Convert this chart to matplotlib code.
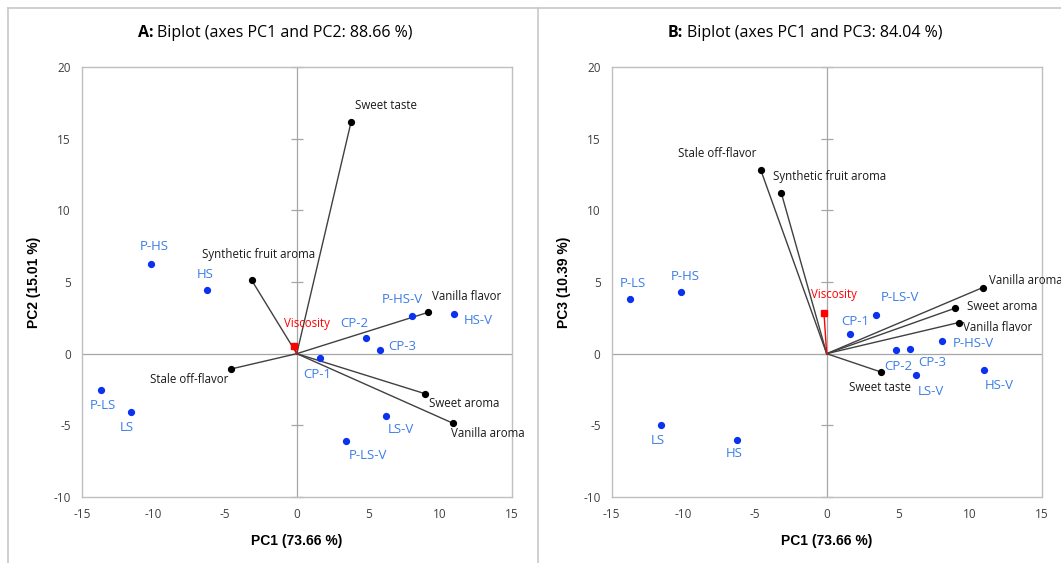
import numpy as np
import matplotlib
matplotlib.use("Agg")
import matplotlib.pyplot as plt
from matplotlib.lines import Line2D

plt.rcParams["axes.unicode_minus"] = False

# sample scores
samples = ["P-HS", "HS", "P-LS", "LS", "CP-1", "CP-2", "CP-3",
           "P-HS-V", "HS-V", "LS-V", "P-LS-V"]
samp_pc1 = [-10.15, -6.26, -13.69, -11.59, 1.65, 4.87, 5.84, 8.08, 10.96, 6.22, 3.45]
samp_pc2 = [6.26, 4.44, -2.53, -4.09, -0.33, 1.12, 0.26, 2.61, 2.77, -4.33, -6.12]
samp_pc3 = [4.28, -6.00, 3.80, -4.95, 1.37, 0.23, 0.30, 0.91, -1.12, -1.49, 2.72]

# sensory attribute loadings
attributes = ["Sweet taste", "Synthetic fruit aroma", "Stale off-flavor",
              "Vanilla flavor", "Sweet aroma", "Vanilla aroma"]
attr_pc1 = [3.79, -3.16, -4.60, 9.20, 8.95, 10.88]
attr_pc2 = [16.15, 5.14, -1.07, 2.89, -2.79, -4.84]
attr_pc3 = [-1.28, 11.19, 12.82, 2.17, 3.17, 4.61]

# instrumental variable
visc_name = "Viscosity"
visc_pc1 = -0.19
visc_pc2 = 0.56
visc_pc3 = 2.86

xticks = [-15, -10, -5, 0, 5, 10, 15]
yticks = [-10, -5, 0, 5, 10, 15, 20]

# label offsets in pixels (dx, dy, ha) for each panel
offs_a = {
    "P-HS": (3, 17, "center"), "HS": (-2, 16, "center"),
    "P-LS": (2, -16, "center"), "LS": (-4, -15, "center"),
    "CP-1": (-3, -16, "center"), "CP-2": (-12, 14, "center"),
    "CP-3": (8, 3, "left"), "P-HS-V": (-10, 17, "center"),
    "HS-V": (10, -7, "left"), "LS-V": (2, -14, "left"),
    "P-LS-V": (3, -14, "left"),
    "Sweet taste": (4, 17, "left"), "Synthetic fruit aroma": (7, 25, "center"),
    "Stale off-flavor": (-3, -10, "right"), "Vanilla flavor": (4, 16, "left"),
    "Sweet aroma": (4, -10, "left"), "Vanilla aroma": (-2, -10, "left"),
    "Viscosity": (13, 22, "center"),
}
offs_b = {
    "P-HS": (4, 16, "center"), "HS": (-3, -14, "center"),
    "P-LS": (2, 16, "center"), "LS": (-3, -16, "center"),
    "CP-1": (5, 13, "center"), "CP-2": (2, -16, "center"),
    "CP-3": (8, -13, "left"), "P-HS-V": (10, -3, "left"),
    "HS-V": (1, -16, "left"), "LS-V": (2, -16, "left"),
    "P-LS-V": (5, 17, "left"),
    "Sweet taste": (-1, -15, "center"), "Synthetic fruit aroma": (-8, 17, "left"),
    "Stale off-flavor": (-4, 16, "right"), "Vanilla flavor": (4, -5, "left"),
    "Sweet aroma": (12, 2, "left"), "Vanilla aroma": (6, 7, "left"),
    "Viscosity": (-12.6, 18, "left"),
}

SAMP_C = "#0A32F0"
SAMP_TXT = "#3C7DE6"
LINE_C = "#404040"
GRID_C = "#BFBFBF"
LBL_FONT = "Open Sans"
TICK_FONT = "Open Sans"


def lab(ax, x, y, text, off, color, size):
    dx, dy, ha = off
    ax.annotate(text, (x, y), xytext=(dx, dy), textcoords="offset pixels",
                ha=ha, va="center", color=color, fontsize=size,
                family=LBL_FONT, annotation_clip=False)


def biplot(ax, sy, ay, vy, ylab, offs):
    ax.set_xlim(-15, 15)
    ax.set_ylim(-10, 20)
    ax.axhline(0, color="#A6A6A6", lw=0.9, zorder=1)
    ax.axvline(0, color="#A6A6A6", lw=0.9, zorder=1)
    ax.plot(np.zeros(len(yticks)), yticks, ls="none", marker="_", ms=8,
            mew=0.9, color="#A6A6A6", zorder=1, clip_on=False)

    # attribute vectors
    for name, x, y in zip(attributes, attr_pc1, ay):
        ax.plot([0, x], [0, y], color=LINE_C, lw=1.0, zorder=2)
        ax.plot(x, y, "o", color="black", ms=4.2, zorder=3)
        lab(ax, x, y, name, offs[name], "#1a1a1a", 8.3)

    ax.plot([0, visc_pc1], [0, vy], color="red", lw=1.0, zorder=2)
    ax.plot(visc_pc1, vy, "s", color="red", ms=4.5, zorder=3)
    lab(ax, visc_pc1, vy, visc_name, offs[visc_name], "red", 8.3)

    ax.plot(samp_pc1, sy, "o", color=SAMP_C, ms=4.2, ls="none", zorder=4)
    for name, x, y in zip(samples, samp_pc1, sy):
        lab(ax, x, y, name, offs[name], SAMP_TXT, 9.5)

    ax.set_xticks(xticks)
    ax.set_yticks(yticks)
    ax.tick_params(length=0, pad=8, labelsize=8.5, labelcolor="#404040")
    for t in ax.get_xticklabels() + ax.get_yticklabels():
        t.set_family(TICK_FONT)
    for s in ax.spines.values():
        s.set_color(GRID_C)
        s.set_linewidth(1.0)
    ax.set_xlabel("PC1 (73.66 %)", fontsize=10, fontweight="bold",
                  family="Liberation Sans", labelpad=9)
    ax.set_ylabel(ylab, fontsize=10, fontweight="bold",
                  family="Liberation Sans", labelpad=9)


fig = plt.figure(figsize=(10.61, 5.63), dpi=100)
ax1 = fig.add_axes([0.0773, 0.1172, 0.4048, 0.7638])
ax2 = fig.add_axes([0.5765, 0.1172, 0.4053, 0.7638])

biplot(ax1, samp_pc2, attr_pc2, visc_pc2, "PC2 (15.01 %)", offs_a)
biplot(ax2, samp_pc3, attr_pc3, visc_pc3, "PC3 (10.39 %)", offs_b)

# panel titles
ty = 1 - 33 / 563
fig.text(153 / 1061, ty, "A:", ha="right", va="center", fontsize=11.5,
         fontweight="bold", family=LBL_FONT)
fig.text(157 / 1061, ty, "Biplot (axes PC1 and PC2: 88.66 %)", ha="left",
         va="center", fontsize=11.5, family=LBL_FONT)
fig.text(683 / 1061, ty, "B:", ha="right", va="center", fontsize=11.5,
         fontweight="bold", family=LBL_FONT)
fig.text(687 / 1061, ty, "Biplot (axes PC1 and PC3: 84.04 %)", ha="left",
         va="center", fontsize=11.5, family=LBL_FONT)

# panel borders
bc = "#C8C8C8"
fig.add_artist(Line2D([8 / 1061, 1], [1 - 8 / 563, 1 - 8 / 563], color=bc, lw=1.2,
                      transform=fig.transFigure))
fig.add_artist(Line2D([8 / 1061, 8 / 1061], [0, 1 - 8 / 563], color=bc, lw=1.2,
                      transform=fig.transFigure))
fig.add_artist(Line2D([538 / 1061, 538 / 1061], [0, 1 - 8 / 563], color=bc, lw=1.2,
                      transform=fig.transFigure))

fig.savefig("out.png", dpi=100)
